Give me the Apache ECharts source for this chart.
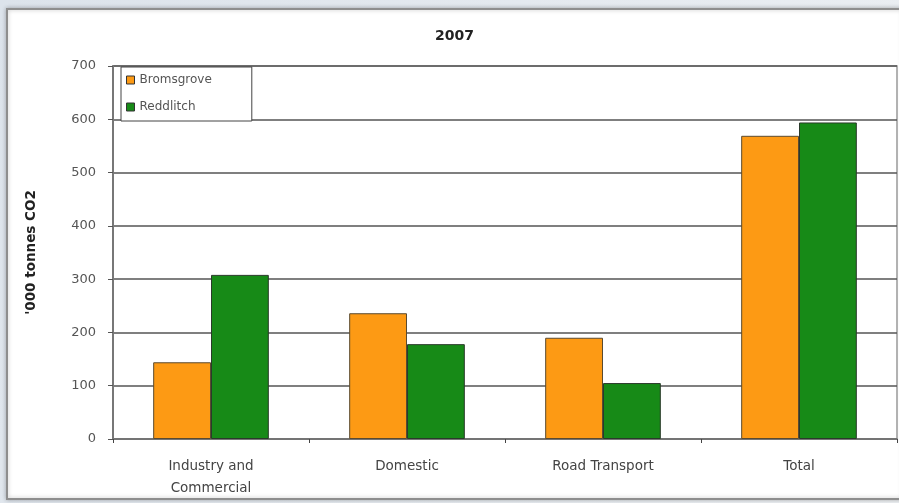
<!DOCTYPE html>
<html>
<head>
<meta charset="utf-8">
<script src="https://cdn.jsdelivr.net/npm/echarts@6/dist/echarts.min.js"></script>
<style>
html,body{margin:0;padding:0;}
#main{width:899px;height:503px;}
</style>
</head>
<body>
<div id="main"></div>
<script>
var categories = ['Industry and\nCommercial', 'Domestic', 'Road Transport', 'Total'];
var bromsgrove = [144, 236, 190, 569];
var redditch = [308, 178, 105, 594];
var seriesNames = ['Bromsgrove', 'Reddlitch'];
var yTicks = {min: 0, max: 700, interval: 100};

var FONT = 'DejaVu Sans';
var chart = echarts.init(document.getElementById('main'));
chart.setOption({
  backgroundColor: {type: 'linear', x: 0, y: 0, x2: 1, y2: 1,
    colorStops: [{offset: 0, color: '#dce3eb'}, {offset: 1, color: '#eef1f4'}]},
  animation: false,
  graphic: [{
    type: 'rect', z: -10,
    shape: {x: 7, y: 9, width: 896, height: 490},
    style: {fill: '#ffffff', stroke: '#8e8e8e', lineWidth: 2,
      shadowBlur: 4, shadowColor: 'rgba(0,0,0,0.25)'}
  }],
  title: {
    text: '2007', left: 430, top: 24,
    textStyle: {fontFamily: FONT, fontSize: 14, fontWeight: 'bold', color: '#222'}
  },
  legend: {
    data: seriesNames, orient: 'vertical', left: 121, top: 67,
    padding: [7, 40, 8, 5], itemGap: 15, itemWidth: 8, itemHeight: 8,
    icon: 'rect', backgroundColor: '#fff', borderColor: '#444', borderWidth: 1,
    textStyle: {fontFamily: FONT, fontSize: 12, color: '#555'},
    itemStyle: {borderColor: '#333', borderWidth: 1}
  },
  grid: {left: 113, right: 2, top: 66, bottom: 64, show: true,
    borderColor: '#999', borderWidth: 1.5},
  xAxis: {
    type: 'category', data: categories,
    axisLine: {lineStyle: {color: '#777', width: 1.5}},
    axisTick: {show: true, length: 4, lineStyle: {color: '#444'}},
    axisLabel: {margin: 16, fontFamily: FONT, fontSize: 13.5, color: '#444', lineHeight: 22}
  },
  yAxis: {
    type: 'value', min: yTicks.min, max: yTicks.max, interval: yTicks.interval,
    name: "'000 tonnes CO2", nameLocation: 'middle', nameRotate: 90, nameGap: 75,
    nameTextStyle: {fontFamily: FONT, fontSize: 13.5, fontWeight: 'bold', color: '#222'},
    axisLine: {show: true, lineStyle: {color: '#777', width: 2}},
    axisTick: {show: true, length: 5, lineStyle: {color: '#555'}},
    axisLabel: {margin: 17, fontFamily: FONT, fontSize: 13, color: '#555'},
    splitLine: {show: true, lineStyle: {color: '#555', width: 1.5}}
  },
  series: [{
    name: seriesNames[0], type: 'bar', data: bromsgrove,
    barGap: '0%', barCategoryGap: '41%',
    itemStyle: {color: '#fd9a14', borderColor: '#5a4a30', borderWidth: 1}
  }, {
    name: seriesNames[1], type: 'bar', data: redditch,
    barGap: '0%', barCategoryGap: '41%',
    itemStyle: {color: '#178a17', borderColor: '#2a3a2a', borderWidth: 1}
  }]
});
</script>
</body>
</html>
